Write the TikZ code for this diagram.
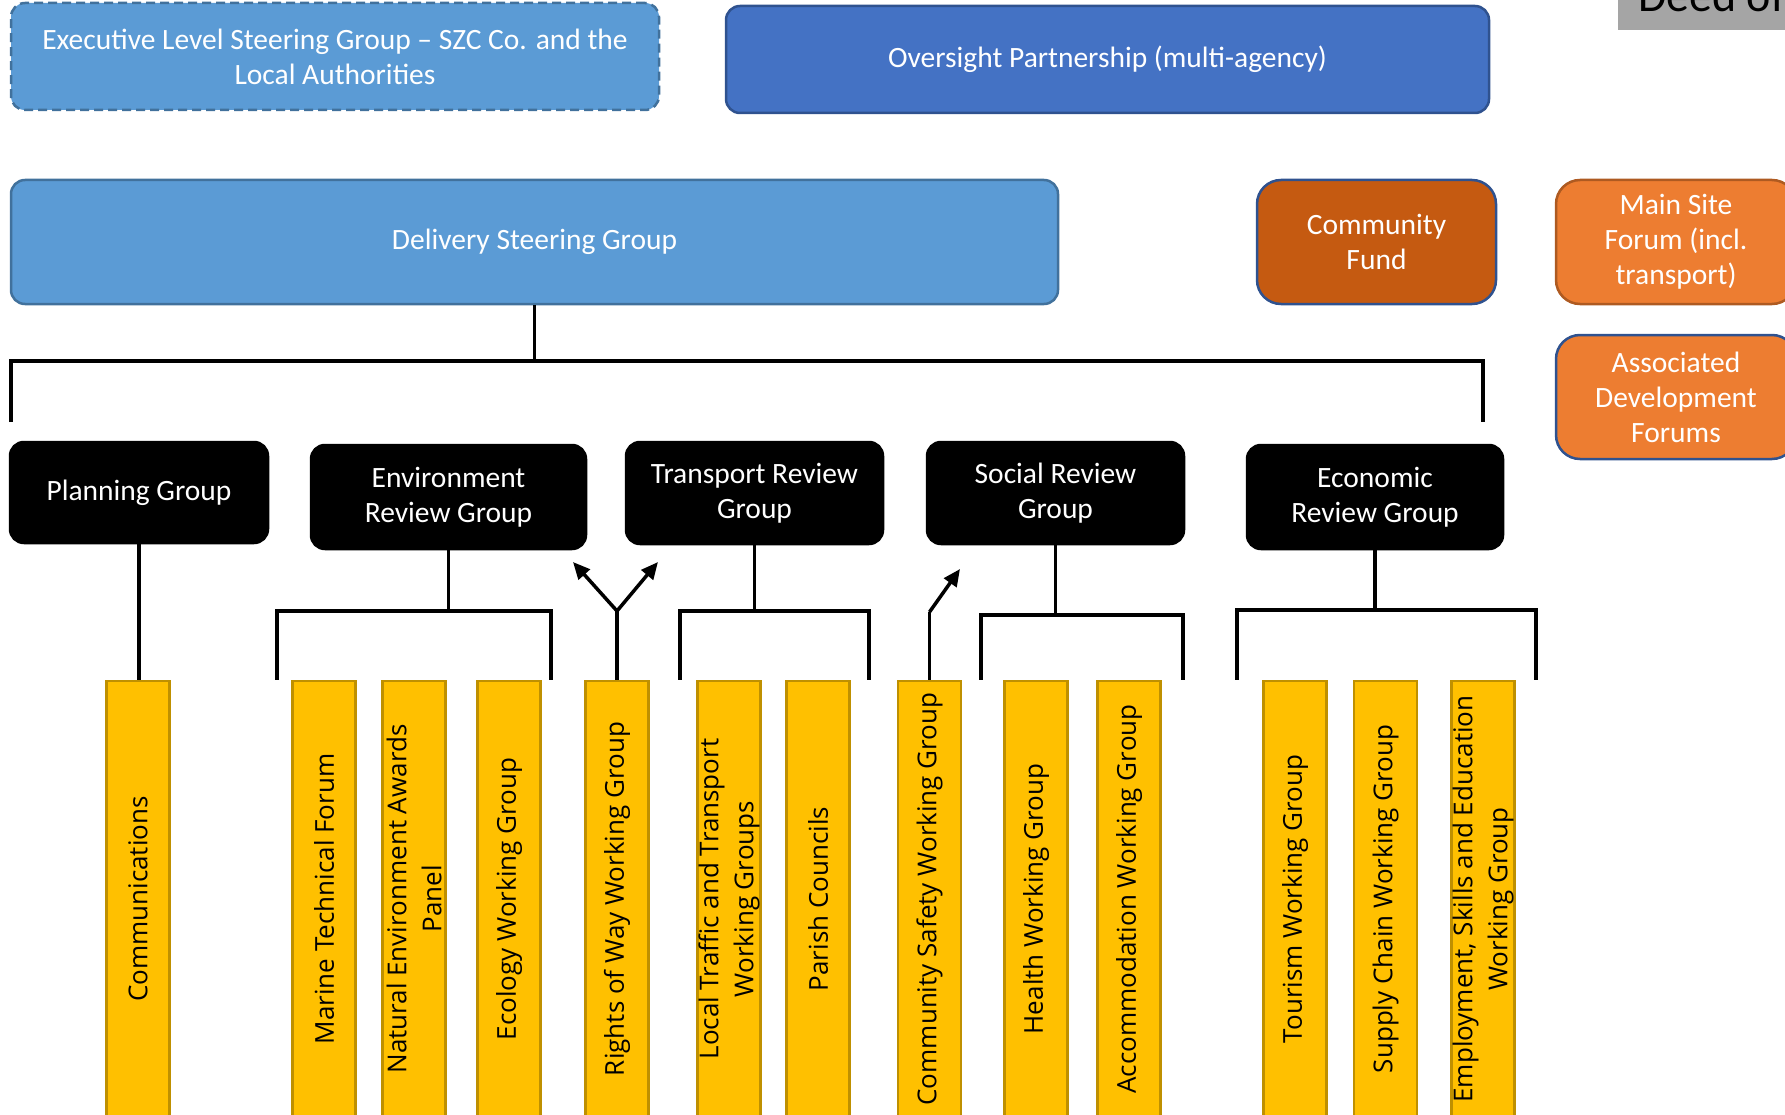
\documentclass[tikz,border=0pt]{standalone}
\usepackage{fontspec}
\setmainfont{Carlito}
\newfontfamily\barfont{Open Sans}
\usepackage{tikz}
\usetikzlibrary{arrows.meta,positioning}

\definecolor{paleblue}{HTML}{5B9BD5}
\definecolor{paleline}{HTML}{41719C}
\definecolor{deepblue}{HTML}{4472C4}
\definecolor{deepline}{HTML}{2F528F}
\definecolor{rust}{HTML}{C55A11}
\definecolor{tangerine}{HTML}{ED7D31}
\definecolor{tanline}{HTML}{AE5A21}
\definecolor{barfill}{HTML}{FFC000}
\definecolor{barline}{HTML}{BF9000}
\definecolor{deedgray}{HTML}{A5A5A5}

\begin{document}
\begin{tikzpicture}[x=1pt,y=-1pt]
    \tikzstyle{box}=[rectangle, rounded corners=14pt, line width=2.5pt, align=center, text=white, font=\fontsize{29.5}{35}\selectfont]
    \tikzstyle{group}=[box, fill=black, draw=black]
    \tikzstyle{forum}=[box, rounded corners=24pt, minimum width=240pt, minimum height=124pt]
    \tikzstyle{bar}=[rectangle, rotate=90, fill=barfill, draw=barline, line width=2.5pt, minimum width=436pt, minimum height=63pt, inner sep=0pt, align=center, font=\barfont\fontsize{26}{35}\selectfont]
    \tikzstyle{link}=[line width=3.5pt]
    \tikzstyle{up}=[link, -{Triangle[length=17pt,width=15pt]}]

    \useasboundingbox (0,0) rectangle (1785,1115);

    % top row
    \fill[deedgray] (1618,-5) rectangle (1800,30);
    \node[anchor=base west, inner sep=0pt, font=\fontsize{46}{46}\selectfont] (deed) at (1638,12) {Deed of};
    \node[box, fill=paleblue, draw=paleline, dash pattern=on 9pt off 5pt, minimum width=648pt, minimum height=107pt] (exec) at (335,56.5) {Executive Level Steering Group -- SZC Co. and the\\Local Authorities};
    \node[box, fill=deepblue, draw=deepline, minimum width=763pt, minimum height=107pt] (over) at (1107.5,59.5) {Oversight Partnership (multi-agency)};

    % second row
    \node[box, fill=paleblue, draw=paleline, minimum width=1047pt, minimum height=124pt] (deliv) at (534.5,242) {Delivery Steering Group};
    \node[forum, fill=rust, draw=deepline, minimum width=239pt] (fund) at (1376.5,242) {Community\\Fund};
    \node[forum, fill=tangerine, draw=tanline] (mainsite) at (1676,242) {Main Site\\Forum (incl.\\transport)};
    \node[forum, fill=tangerine, draw=deepline] (assoc) at (1676,397) {Associated\\Development\\Forums};

    % review groups
    \node[group, minimum width=258pt, minimum height=101pt] (plan) at (139,492.5) {Planning Group};
    \node[group, minimum width=275pt, minimum height=104pt] (env) at (448.5,497) {Environment\\Review Group};
    \node[group, minimum width=257pt, minimum height=102pt] (trans) at (754.5,493) {Transport Review\\Group};
    \node[group, minimum width=257pt, minimum height=102pt] (social) at (1055.5,493) {Social Review\\Group};
    \node[group, minimum width=256pt, minimum height=104pt] (econ) at (1375,497) {Economic\\Review Group};

    % working groups
    \node[bar] (comms)   at (138,899)    {Communications};
    \node[bar] (marine)  at (324,899)    {Marine Technical Forum};
    \node[bar] (natural) at (414,899)    {Natural Environment Awards\\Panel};
    \node[bar] (ecology) at (509,899)    {Ecology Working Group};
    \node[bar] (rights)  at (617,899)    {Rights of Way Working Group};
    \node[bar] (traffic) at (729,899)    {Local Traffic and Transport\\Working Groups};
    \node[bar] (parish)  at (818,899)    {Parish Councils};
    \node[bar] (safety)  at (929.5,899)  {Community Safety Working Group};
    \node[bar] (health)  at (1036,899)   {Health Working Group};
    \node[bar] (accom)   at (1129,899)   {Accommodation Working Group};
    \node[bar] (tourism) at (1295,899)   {Tourism Working Group};
    \node[bar] (supply)  at (1385.5,899) {Supply Chain Working Group};
    \node[bar] (employ)  at (1483,899)   {Employment, Skills and Education\\Working Group};

    % bracket corners and free ends
    \coordinate (busl) at (11,361);
    \coordinate (busr) at (1483,361);
    \coordinate (bustop) at (0,422);
    \coordinate (envl) at (277,611);
    \coordinate (envr) at (551,611);
    \coordinate (trl) at (680,611);
    \coordinate (trr) at (869,611);
    \coordinate (socl) at (981,615);
    \coordinate (socr) at (1183,615);
    \coordinate (ecl) at (1237,610);
    \coordinate (ecr) at (1536,610);
    \coordinate (rowfork) at (617,611);
    \coordinate (rowleft) at (573,562);
    \coordinate (rowright) at (658,562);
    \coordinate (safefork) at (929.5,612);
    \coordinate (safetip) at (960,569);

    \draw[link] (deliv.south) -- (deliv.south |- busl);
    \draw[link] (busl |- bustop) -- (busl) -- (busr) -- (busr |- bustop);
    \draw[link] (plan.south) -- (plan.south |- comms.east);
    \draw[link] (env.south) -- (env.south |- envl);
    \draw[link] (envl |- comms.east) -- (envl) -- (envr) -- (envr |- comms.east);
    \draw[link] (trans.south) -- (trans.south |- trl);
    \draw[link] (trl |- comms.east) -- (trl) -- (trr) -- (trr |- comms.east);
    \draw[link] (social.south) -- (social.south |- socl);
    \draw[link] (socl |- comms.east) -- (socl) -- (socr) -- (socr |- comms.east);
    \draw[link] (econ.south) -- (econ.south |- ecl);
    \draw[link] (ecl |- comms.east) -- (ecl) -- (ecr) -- (ecr |- comms.east);
    \draw[link] (rights.east) -- (rowfork);
    \draw[up] (rowfork) -- (rowleft);
    \draw[up] (rowfork) -- (rowright);
    \draw[link] (safety.east) -- (safefork);
    \draw[up] (safefork) -- (safetip);
\end{tikzpicture}
\end{document}
